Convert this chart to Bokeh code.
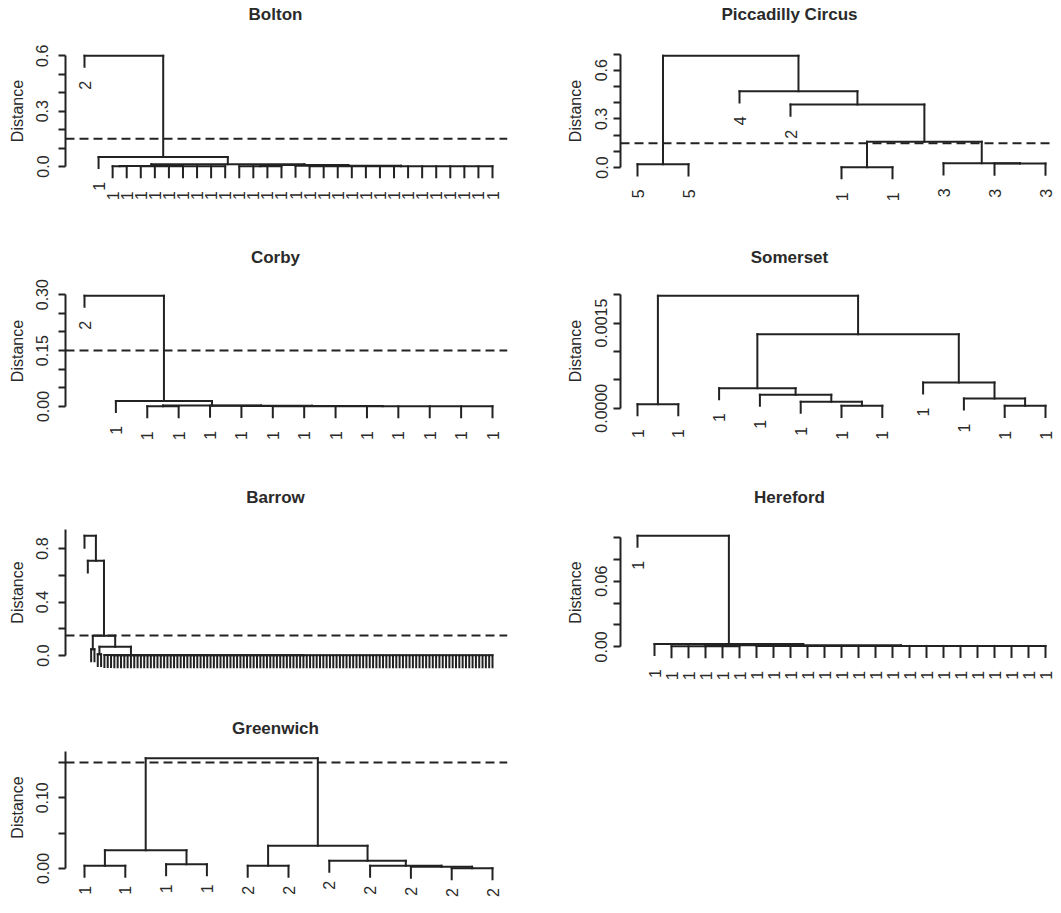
import math
from bokeh.plotting import figure
from bokeh.models import ColumnDataSource, Range1d, FixedTicker, PrintfTickFormatter, Span
from bokeh.layouts import row, column
from bokeh.embed import file_html
from bokeh.resources import INLINE
from bokeh.core.properties import value

# ---------------- data ----------------
# Dendrogram trees: [merge height, child, child, ...]; leaves are their labels (display order)
bolton_tree = [0.600, "2",
               [0.052, "1",
                [0.012,
                 [0.003, [0.001, "1", "1"], [0.002, "1", "1", "1", "1", "1", "1", "1"]],
                 [0.008,
                  [0.002, "1", "1", "1", "1"],
                  [0.004, "1", [0.002, "1", "1", "1", "1", "1", "1", "1",
                                "1", "1", "1", "1", "1", "1", "1"]]]]]]
bolton_ticks = [0.0, 0.3, 0.6]
bolton_minor = [0.1, 0.2, 0.4, 0.5]
bolton_axis_top = 0.6

piccadilly_tree = [0.689, [0.020, "5", "5"],
                   [0.470, "4",
                    [0.388, "2",
                     [0.159, [0.002, "1", "1"],
                      [0.026, "3", [0.024, "3", "3"]]]]]]
piccadilly_ticks = [0.0, 0.3, 0.6]
piccadilly_minor = [0.1, 0.2, 0.4, 0.5, 0.7]
piccadilly_axis_top = 0.7

corby_tree = [0.297, "2",
              [0.015, "1",
               [0.0025, [0.0008, "1", "1"],
                [0.0018, "1", [0.0014, "1", [0.001, "1", "1", "1", "1", "1", "1", "1", "1"]]]]]]
corby_ticks = [0.00, 0.15, 0.30]
corby_minor = [0.05, 0.10, 0.20, 0.25]
corby_axis_top = 0.30

somerset_tree = [0.001981, [0.0000705, "1", "1"],
                 [0.001305,
                  [0.000353, "1", [0.000235, "1", [0.000112, "1", [0.000041, "1", "1"]]]],
                  [0.000453, "1", [0.000170, "1", [0.000041, "1", "1"]]]]]
somerset_ticks = [0.0000, 0.0015]
somerset_minor = [0.0005, 0.0010, 0.0020]
somerset_axis_top = 0.0020

barrow_tree = [0.895, "",
               [0.709, "",
                [0.147, [0.047, "", ""],
                 [0.065, [0.010, "", ""],
                  [0.004, "", [0.003, "", [0.0025, "", [0.002] + [""] * 115]]]]]]]
barrow_ticks = [0.0, 0.4, 0.8]
barrow_minor = [0.2, 0.6]
barrow_axis_top = 0.94

hereford_tree = [0.1016, "1",
                 [0.0025, "1",
                  [0.0015, [0.0005, "1", "1", "1", "1", "1"],
                   [0.0008, "1", "1", "1", "1", "1", "1", "1", "1", "1",
                    "1", "1", "1", "1", "1", "1", "1", "1", "1"]]]]
hereford_ticks = [0.00, 0.06]
hereford_minor = [0.02, 0.04, 0.08, 0.10]
hereford_axis_top = 0.10

greenwich_tree = [0.156,
                  [0.0259, [0.0038, "1", "1"], [0.0060, "1", "1"]],
                  [0.0320, [0.0038, "2", "2"],
                   [0.0109, "2", [0.0038, "2", [0.0024, "2", [0.0005, "2", "2"]]]]]]
greenwich_ticks = [0.00, 0.10]
greenwich_minor = [0.05, 0.15]
greenwich_axis_top = 0.1656

threshold = 0.15

# ---------------- style / layout ----------------
LINE = "#222222"
TEXT = "#2a2a2a"
FONT = "Liberation Sans"
LW = 2.0

COLS = {
    "L": dict(img_left=8, width=532, border_l=65, border_r=25, leaf_off=19, standoff=10, lab_standoff=8, title_cx=283),
    "R": dict(img_left=540, width=521, border_l=88, border_r=0, leaf_off=17, standoff=6, lab_standoff=9, title_cx=797),
}
# image-pixel geometry of each row: figure top/bottom, frame top/bottom, title centre, label gap
ROWS = [
    dict(fig_top=8, fig_bot=248, frame_top=8, frame_bot=229, title_cy=22, gap=14),
    dict(fig_top=248, fig_bot=488, frame_top=250, frame_bot=467, title_cy=265, gap=14),
    dict(fig_top=488, fig_bot=708, frame_top=492, frame_bot=708, title_cy=505, gap=14),
    dict(fig_top=708, fig_bot=905, frame_top=725, frame_bot=905, title_cy=736, gap=9),
]
SPAN_PX = 408.0


def dendro(tree):
    heights = []

    def collect(node):
        if isinstance(node, list):
            heights.append(node[0])
            for c in node[1:]:
                collect(c)
    collect(tree)
    hang = 0.1 * (max(heights) - min(heights))
    seg = dict(x0=[], y0=[], x1=[], y1=[])
    leaves = dict(x=[], y=[], label=[])
    count = [0]

    def walk(node):
        h = node[0]
        pts = []
        for c in node[1:]:
            if isinstance(c, list):
                pts.append(walk(c))
            else:
                count[0] += 1
                xl, yl = count[0], h - hang
                if c:
                    leaves["x"].append(xl)
                    leaves["y"].append(yl)
                    leaves["label"].append(c)
                pts.append((xl, yl))
        for xc, yc in pts:
            seg["x0"].append(xc); seg["y0"].append(yc)
            seg["x1"].append(xc); seg["y1"].append(h)
        seg["x0"].append(pts[0][0]); seg["y0"].append(h)
        seg["x1"].append(pts[-1][0]); seg["y1"].append(h)
        return ((pts[0][0] + pts[-1][0]) / 2.0, h)
    walk(tree)
    return seg, leaves, count[0], max(heights)


def panel(title, tree, ticks, minor, fmt, axis_top, col, rw, zero_px, top_px):
    c = COLS[col]
    r = ROWS[rw]
    seg, leaves, n, hmax = dendro(tree)
    frame_w = c["width"] - c["border_l"] - c["border_r"]
    u = (n - 1) / SPAN_PX
    x0 = 1 - c["leaf_off"] * u
    x1 = x0 + frame_w * u
    k = (zero_px - top_px) / hmax
    y1 = hmax + (top_px - r["frame_top"]) / k
    y0 = -(r["frame_bot"] - zero_px) / k
    p = figure(width=c["width"], height=r["fig_bot"] - r["fig_top"],
               x_range=Range1d(x0, x1), y_range=Range1d(y0, y1),
               min_border_left=c["border_l"], min_border_right=c["border_r"],
               min_border_top=r["frame_top"] - r["fig_top"],
               min_border_bottom=r["fig_bot"] - r["frame_bot"],
               x_axis_location=None, tools="", toolbar_location=None,
               output_backend="svg", outline_line_color=None,
               background_fill_color="white", border_fill_color="white")
    p.grid.visible = False
    p.segment(x0="x0", y0="y0", x1="x1", y1="y1", source=ColumnDataSource(seg),
              line_color=LINE, line_width=LW, line_cap="square")
    if leaves["x"]:
        p.text(x="x", y="y", text="label", source=ColumnDataSource(leaves),
               angle=math.pi / 2, text_align="right", text_baseline="middle",
               y_offset=r["gap"], text_font=value(FONT), text_font_size="16px",
               text_color=TEXT)
    if threshold < y1:
        p.add_layout(Span(location=threshold, dimension="width", line_color=LINE,
                          line_width=LW, line_dash="9 5"))
    # title, placed through the panel's own scales
    frame_left_img = c["img_left"] + c["border_l"]
    tx = x0 + (c["title_cx"] - frame_left_img) * u
    ty = y1 - (r["title_cy"] - r["frame_top"]) / k
    p.text(x=[tx], y=[ty], text=[title], text_align="center", text_baseline="middle",
           text_font=value(FONT), text_font_size="17px", text_font_style="bold",
           text_color=TEXT)
    ax = p.yaxis[0]
    ax.ticker = FixedTicker(ticks=ticks, minor_ticks=minor)
    ax.formatter = PrintfTickFormatter(format=fmt)
    ax.bounds = (0, axis_top)
    ax.axis_label = "Distance"
    ax.axis_label_text_font = FONT
    ax.axis_label_text_font_size = "16px"
    ax.axis_label_text_font_style = "normal"
    ax.axis_label_text_color = TEXT
    ax.axis_label_standoff = c["lab_standoff"]
    ax.major_label_orientation = "vertical"
    ax.major_label_text_font = FONT
    ax.major_label_text_font_size = "16px"
    ax.major_label_text_color = TEXT
    ax.major_label_standoff = c["standoff"]
    ax.axis_line_color = LINE
    ax.axis_line_width = LW
    ax.major_tick_line_color = LINE
    ax.major_tick_line_width = LW
    ax.minor_tick_line_color = LINE
    ax.minor_tick_line_width = LW
    ax.major_tick_in = 0
    ax.major_tick_out = 7
    ax.minor_tick_in = 0
    ax.minor_tick_out = 7
    return p


p1 = panel("Bolton", bolton_tree, bolton_ticks, bolton_minor, "%.1f", bolton_axis_top, "L", 0, 174.0, 63.3)
p2 = panel("Piccadilly Circus", piccadilly_tree, piccadilly_ticks, piccadilly_minor, "%.1f", piccadilly_axis_top, "R", 0, 175.0, 63.3)
p3 = panel("Corby", corby_tree, corby_ticks, corby_minor, "%.2f", corby_axis_top, "L", 1, 414.0, 303.3)
p4 = panel("Somerset", somerset_tree, somerset_ticks, somerset_minor, "%.4f", somerset_axis_top, "R", 1, 415.7, 303.3)
p5 = panel("Barrow", barrow_tree, barrow_ticks, barrow_minor, "%.1f", barrow_axis_top, "L", 2, 663.0, 543.3)
p6 = panel("Hereford", hereford_tree, hereford_ticks, hereford_minor, "%.2f", hereford_axis_top, "R", 2, 654.3, 543.3)
p7 = panel("Greenwich", greenwich_tree, greenwich_ticks, greenwich_minor, "%.2f", greenwich_axis_top, "L", 3, 876.0, 765.7)

layout = column(row(p1, p2), row(p3, p4), row(p5, p6), row(p7))
open("out.html", "w").write(file_html(layout, INLINE))
